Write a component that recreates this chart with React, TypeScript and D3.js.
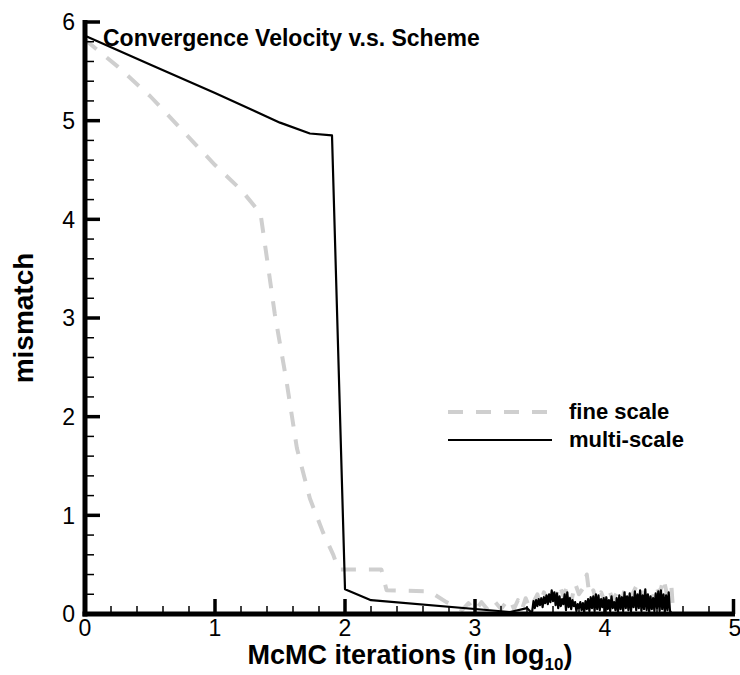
import React from "react";
import * as d3 from "d3";

const xTicks = [0, 1, 2, 3, 4, 5];
const yTicks = [0, 1, 2, 3, 4, 5, 6];

const fineX = [0, 0.25, 0.5, 0.75, 1.0, 1.2, 1.35, 1.4, 1.46, 1.55, 1.63, 1.73, 1.83, 1.91, 1.95, 2.28, 2.32, 2.65, 2.78, 2.85,
  2.9, 2.95, 3.0, 3.05, 3.1, 3.15, 3.2, 3.24,
  3.27, 3.3, 3.33, 3.36, 3.39, 3.42, 3.45, 3.48, 3.5, 3.53, 3.56, 3.59, 3.62, 3.65, 3.68, 3.71, 3.74, 3.77, 3.8, 3.83, 3.86, 3.88,
  3.91, 3.94, 3.97, 4.0, 4.03, 4.06, 4.09, 4.12, 4.15, 4.18, 4.21, 4.24, 4.27, 4.3, 4.33, 4.36, 4.39, 4.42, 4.45, 4.48, 4.51, 4.52];
const fineY = [5.82, 5.55, 5.25, 4.9, 4.55, 4.3, 4.06, 3.6, 3.04, 2.36, 1.68, 1.17, 0.83, 0.6, 0.45, 0.45, 0.24, 0.23, 0.12, 0.08,
  0.04, 0.11, 0.03, 0.12, 0.04, 0.13, 0.05, 0.12,
  0.15, 0.05, 0.14, 0.04, 0.16, 0.06, 0.12, 0.2, 0.1, 0.22, 0.13, 0.25, 0.15, 0.3, 0.18, 0.28, 0.12, 0.31, 0.2, 0.26, 0.4, 0.19,
  0.24, 0.1, 0.22, 0.12, 0.25, 0.14, 0.21, 0.09, 0.24, 0.13, 0.2, 0.28, 0.31, 0.15, 0.26, 0.12, 0.29, 0.2, 0.36, 0.18, 0.3, 0.1];

const multiX = [0, 0.5, 1.0, 1.3, 1.5, 1.73, 1.9, 2.0, 2.2, 3.27, 3.4, 3.43,
  3.44, 3.45, 3.46, 3.47, 3.48, 3.49, 3.5, 3.51, 3.52, 3.53, 3.54, 3.55, 3.56, 3.57, 3.58, 3.59, 3.6, 3.61, 3.62, 3.63, 3.64,
  3.65, 3.66, 3.67, 3.68, 3.69, 3.7, 3.71, 3.72, 3.73, 3.74, 3.75, 3.76, 3.77, 3.78, 3.79, 3.8, 3.81, 3.82, 3.83, 3.84, 3.85,
  3.86, 3.87, 3.88, 3.89, 3.9, 3.91, 3.92, 3.93, 3.94, 3.95, 3.96, 3.97, 3.98, 3.99, 4.0, 4.01, 4.02, 4.03, 4.04, 4.05, 4.06,
  4.07, 4.08, 4.09, 4.1, 4.11, 4.12, 4.13, 4.14, 4.15, 4.16, 4.17, 4.18, 4.19, 4.2, 4.21, 4.22, 4.23, 4.24, 4.25, 4.26, 4.27,
  4.28, 4.29, 4.3, 4.31, 4.32, 4.33, 4.34, 4.35, 4.36, 4.37, 4.38, 4.39, 4.4, 4.41, 4.42, 4.43, 4.44, 4.45, 4.46, 4.47, 4.48,
  4.49, 4.5, 4.51];
const multiY = [5.86, 5.57, 5.28, 5.1, 4.98, 4.87, 4.85, 0.25, 0.14, 0.02, 0.06, 0.02,
  0.03, 0.13, 0.06, 0.14, 0.08, 0.15, 0.09, 0.16, 0.07, 0.17, 0.11, 0.19, 0.1, 0.2, 0.12, 0.24, 0.13, 0.22, 0.09, 0.21, 0.06,
  0.18, 0.08, 0.15, 0.1, 0.2, 0.04, 0.22, 0.07, 0.16, 0.05, 0.14, 0.08, 0.12, 0.03, 0.1, 0.06, 0.12, 0.04, 0.11, 0.02, 0.13,
  0.05, 0.15, 0.03, 0.17, 0.06, 0.18, 0.03, 0.2, 0.05, 0.19, 0.04, 0.15, 0.07, 0.16, 0.02, 0.17, 0.05, 0.14, 0.03, 0.18, 0.06,
  0.12, 0.04, 0.16, 0.02, 0.19, 0.05, 0.17, 0.03, 0.22, 0.06, 0.18, 0.04, 0.21, 0.03, 0.17, 0.07, 0.23, 0.04, 0.2, 0.06, 0.24,
  0.03, 0.19, 0.05, 0.25, 0.04, 0.2, 0.02, 0.18, 0.05, 0.16, 0.03, 0.21, 0.06, 0.23, 0.03, 0.24, 0.05, 0.2, 0.02, 0.19, 0.04,
  0.22, 0.03, 0.02];

const seriesNames = ["fine scale", "multi-scale"];

const FONT = "'Liberation Sans', Arial, Helvetica, sans-serif";

export default function App() {
  const W = 740, H = 675;
  const x = d3.scaleLinear().domain([0, 5]).range([85, 735]);
  const y = d3.scaleLinear().domain([0, 6]).range([614, 22]);
  const line = d3.line<[number, number]>().x(d => x(d[0])).y(d => y(d[1]));
  const fine = fineX.map((v, i) => [v, fineY[i]] as [number, number]);
  const multi = multiX.map((v, i) => [v, multiY[i]] as [number, number]);
  const yMinor = d3.range(0, 6.001, 0.2).filter(v => Math.abs(v - Math.round(v)) > 1e-6);
  const xMinor = d3.range(0, 5.001, 0.2).filter(v => Math.abs(v - Math.round(v)) > 1e-6);

  return (
    <svg width={W} height={H} style={{ position: "absolute", left: 0, top: 0, background: "#fff" }} fontFamily={FONT}>
      <rect width={W} height={H} fill="#fff" />
      {/* data */}
      <path d={line(fine) || ""} fill="none" stroke="#cfcfcf" strokeWidth={4} strokeDasharray="15 13" strokeLinejoin="round" />
      <path d={line(multi) || ""} fill="none" stroke="#000" strokeWidth={2.2} strokeLinejoin="round" />
      {/* axes */}
      <line x1={x(0)} x2={x(0)} y1={20} y2={y(0) + 2.5} stroke="#000" strokeWidth={5} />
      <line x1={x(0) - 2.5} x2={x(5)} y1={y(0)} y2={y(0)} stroke="#000" strokeWidth={5} />
      {yTicks.map(t => (
        <g key={"yt" + t}>
          {t > 0 && <line x1={x(0)} x2={x(0) + 15} y1={y(t)} y2={y(t)} stroke="#000" strokeWidth={3.5} />}
          <text x={75} y={y(t)} dy="0.36em" textAnchor="end" fontSize={23}>{t}</text>
        </g>
      ))}
      {yMinor.map(t => (
        <line key={"ym" + t} x1={x(0)} x2={x(0) + 9} y1={y(t)} y2={y(t)} stroke="#000" strokeWidth={1.5} />
      ))}
      {xTicks.map(t => (
        <g key={"xt" + t}>
          {t > 0 && <line x1={x(t) - (t === 5 ? 1.5 : 0)} x2={x(t) - (t === 5 ? 1.5 : 0)} y1={y(0)} y2={y(0) - 15} stroke="#000" strokeWidth={3.5} />}
          <text x={x(t)} y={636} textAnchor="middle" fontSize={23}>{t}</text>
        </g>
      ))}
      {xMinor.map(t => (
        <line key={"xm" + t} x1={x(t)} x2={x(t)} y1={y(0)} y2={y(0) - 8} stroke="#000" strokeWidth={1.5} />
      ))}
      {/* title */}
      <text x={103} y={46} fontSize={23} fontWeight="bold">Convergence Velocity v.s. Scheme</text>
      {/* axis labels */}
      <text x={410} y={664} textAnchor="middle" fontSize={27} fontWeight="bold">
        McMC iterations (in log<tspan fontSize={17} dy={6}>10</tspan><tspan dy={-6}>)</tspan>
      </text>
      <text transform={`translate(33,${y(3)}) rotate(-90)`} textAnchor="middle" fontSize={28} fontWeight="bold">mismatch</text>
      {/* legend */}
      <line x1={448} x2={552} y1={412} y2={412} stroke="#cfcfcf" strokeWidth={4} strokeDasharray="15 13" />
      <text x={569} y={419} fontSize={22} fontWeight="bold">{seriesNames[0]}</text>
      <line x1={448} x2={552} y1={440} y2={440} stroke="#000" strokeWidth={2.2} />
      <text x={569} y={447} fontSize={22} fontWeight="bold">{seriesNames[1]}</text>
    </svg>
  );
}
